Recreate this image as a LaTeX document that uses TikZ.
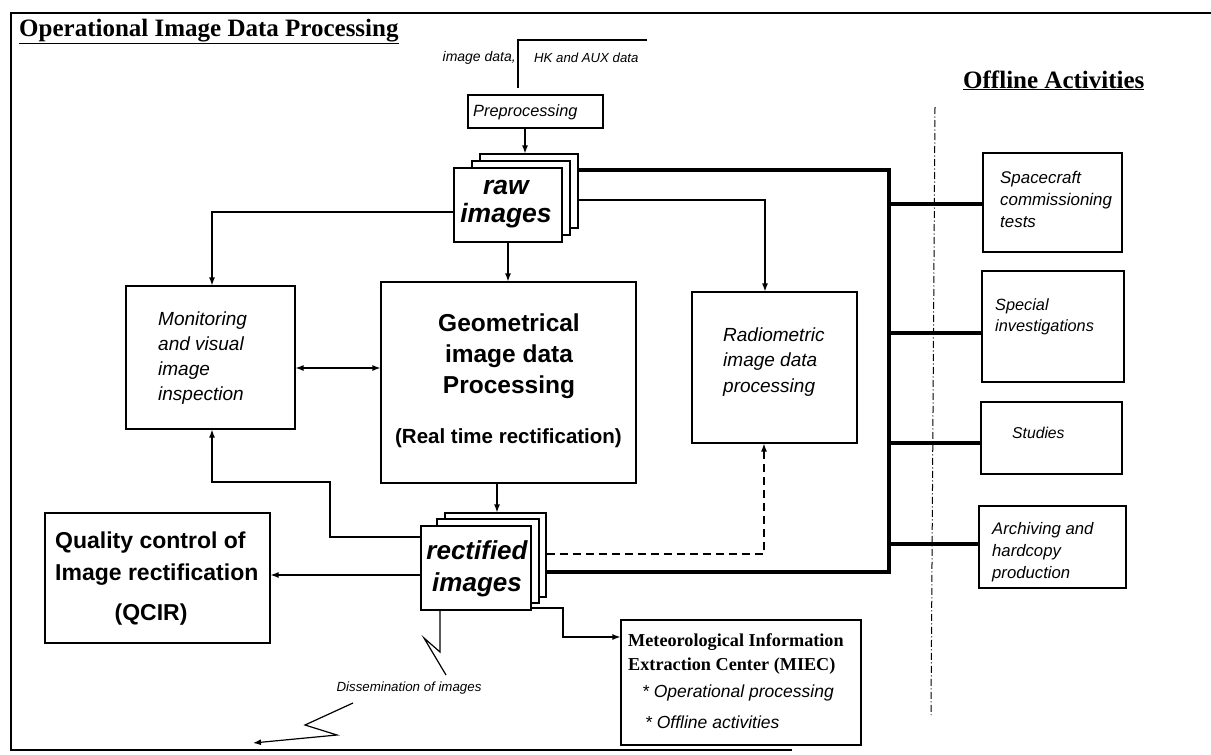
\documentclass[tikz,border=0pt]{standalone}
\usepackage{fontspec}
\setmainfont{Liberation Serif}
\setsansfont{Liberation Sans}
\usetikzlibrary{arrows.meta}
\begin{document}
\begin{tikzpicture}[x=1pt,y=-1pt,
  box/.style={draw, line width=1.2pt, inner sep=0pt, fill=white},
  conn/.style={line width=1.2pt},
  tip/.tip={Latex[length=8pt,width=6pt]},
  arr/.style={conn, -tip},
  darr/.style={conn, tip-tip},
  dasharr/.style={conn, dash pattern=on 8pt off 5pt, -tip},
  bus/.style={line width=3.2pt},
  frame/.style={line width=2.2pt},
  divider/.style={line width=1pt, dash pattern=on 7pt off 2.5pt on 1pt off 2.5pt},
  txt/.style={inner sep=0pt, align=left, anchor=west},
  ctxt/.style={inner sep=0pt, align=center},
  sit/.style={font=\fontsize{#1}{#1}\selectfont\sffamily\itshape},
]
\useasboundingbox (0,0) rectangle (1211,755);

% frame
\draw[frame] (1211,13) -- (11,13) -- (11,750) -- (792,750);

% titles
\node[inner sep=0pt, anchor=base west, font=\fontsize{25}{28}\selectfont\bfseries] (title) at (19,36) {\underline{Operational Image Data Processing}};
\node[inner sep=0pt, anchor=base west, font=\fontsize{25}{28}\selectfont\bfseries] (offtitle) at (963,88) {\underline{Offline Activities}};

% input
\coordinate (inR) at (647,40);
\coordinate (inT) at (518,40);
\coordinate (inB) at (518,88);
\draw[conn] (inR) -- (inT) -- (inB);
\node[inner sep=0pt, anchor=east, font=\fontsize{14}{14}\selectfont\sffamily\itshape] (imgdata) at (516,58) {image data,};
\node[inner sep=0pt, anchor=west, font=\fontsize{13.2}{14}\selectfont\sffamily\itshape] (hkdata) at (534,58) {HK and AUX data};

% preprocessing
\node[box, minimum width=135pt, minimum height=33pt] (pre) at (535.5,111.5) {};
\node[txt, sit=16.3] (preT) at (473,112) {Preprocessing};

% raw images stack
\node[box, minimum width=98pt, minimum height=74pt] (rawB) at (529,191) {};
\node[box, minimum width=98pt, minimum height=74pt] (rawM) at (521,198) {};
\node[box, minimum width=108pt, minimum height=74pt] (raw) at (508,205) {};
\node[ctxt, font=\fontsize{26.5}{28}\selectfont\sffamily\bfseries\itshape] (rawT) at (506,204) {raw\\images};

% monitoring
\node[box, minimum width=169pt, minimum height=143pt] (mon) at (210.5,357.5) {};
\node[txt, font=\fontsize{19}{25}\selectfont\sffamily\itshape] (monT) at (158,358) {Monitoring\\and visual\\image\\inspection};

% geometrical
\node[box, minimum width=255pt, minimum height=201pt] (geo) at (508.5,382.5) {};
\node[ctxt, font=\fontsize{24.5}{31}\selectfont\sffamily\bfseries] (geoT) at (509,356) {Geometrical\\image data\\Processing};
\node[ctxt, font=\fontsize{20.5}{22}\selectfont\sffamily\bfseries] (geoR) at (508.5,438) {(Real time rectification)};

% radiometric
\node[box, minimum width=165pt, minimum height=151pt] (radio) at (774.5,367.5) {};
\node[txt, font=\fontsize{19}{25.5}\selectfont\sffamily\itshape] (radioT) at (723,362) {Radiometric\\image data\\processing};

% rectified images stack
\node[box, minimum width=101pt, minimum height=84pt] (rectB) at (495.5,555) {};
\node[box, minimum width=102pt, minimum height=84pt] (rectM) at (488,561) {};
\node[box, minimum width=110pt, minimum height=84pt] (rect) at (476,568) {};
\node[ctxt, font=\fontsize{26}{32}\selectfont\sffamily\bfseries\itshape] (rectT) at (477,569) {rectified\\images};

% QCIR
\node[box, minimum width=225pt, minimum height=130pt] (qcir) at (157.5,578) {};
\node[txt, font=\fontsize{23}{32}\selectfont\sffamily\bfseries] (qcirT) at (55,559) {Quality control of\\Image rectification};
\node[ctxt, font=\fontsize{23}{26}\selectfont\sffamily\bfseries] (qcirR) at (151,615) {(QCIR)};

% MIEC
\node[box, minimum width=240pt, minimum height=125pt] (miec) at (741,682.5) {};
\node[txt, font=\fontsize{18.2}{24}\selectfont\bfseries] (miecT) at (628,654) {Meteorological Information\\Extraction Center (MIEC)};
\node[txt, sit=17.5] (miecA) at (642,693) {* Operational processing};
\node[txt, sit=17.5] (miecB) at (645,722) {* Offline activities};

% offline boxes
\node[box, minimum width=139pt, minimum height=99pt] (sc) at (1052.5,202.5) {};
\node[txt, font=\fontsize{16.9}{22}\selectfont\sffamily\itshape] (scT) at (1000,199) {Spacecraft\\commissioning\\tests};
\node[box, minimum width=142pt, minimum height=111pt] (si) at (1053,326.5) {};
\node[txt, font=\fontsize{16.3}{21}\selectfont\sffamily\itshape] (siT) at (995,317) {Special\\investigations};
\node[box, minimum width=141pt, minimum height=72pt] (st) at (1051.5,438) {};
\node[txt, sit=15.7] (stT) at (1012,433) {Studies};
\node[box, minimum width=147pt, minimum height=82pt] (ar) at (1052.5,547) {};
\node[txt, font=\fontsize{16.7}{22}\selectfont\sffamily\itshape] (arT) at (992,552) {Archiving and\\hardcopy\\production};

% divider
\coordinate (divT) at (935,107);
\coordinate (divB) at (931,715);
\draw[divider] (divT) -- (divB);

% connectors
\draw[arr] ([xshift=-10.5pt]pre.south) -- ([xshift=-10.5pt]pre.south |- rawB.north);
\draw[arr] (raw.south) -- (raw.south |- geo.north);
\draw[arr] ([yshift=-7pt]raw.west) -| ([xshift=1.5pt]mon.north);
\draw[arr] ([yshift=-9pt]rawB.east) -| ([xshift=-9.5pt]radio.north);
\draw[darr] ([yshift=-10.5pt]mon.east) -- ([yshift=-10.5pt]mon.east -| geo.west);
\draw[arr] ([xshift=-11.5pt]geo.south) -- ([xshift=-11.5pt]geo.south |- rectB.north);

% bus
\coordinate (busB) at (889,572);
\draw[bus] ([yshift=21pt]rawB.east) -| (busB) -- ([yshift=-17pt]rectB.east);
\draw[bus] ([yshift=-1.5pt]sc.west -| busB) -- ([yshift=-1.5pt]sc.west);
\draw[bus] ([yshift=-6.5pt]si.west -| busB) -- ([yshift=-6.5pt]si.west);
\draw[bus] ([yshift=-5pt]st.west -| busB) -- ([yshift=-5pt]st.west);
\draw[bus] ([yshift=3pt]ar.west -| busB) -- ([yshift=3pt]ar.west);

% rectified outputs
\coordinate (loopA) at (330,482);
\draw[arr] ([yshift=31pt]rect.west) -| (loopA) -| ([xshift=1.5pt]mon.south);
\draw[arr] ([yshift=-7pt]rect.west) -- ([yshift=-7pt]rect.west -| qcir.east);
\draw[dasharr] ([yshift=1pt]rectB.east) -| ([xshift=-10.5pt]radio.south);
\coordinate (miecK) at (563,637);
\draw[arr] ([yshift=-40pt]rect.east) -| (miecK) -- ([yshift=45.5pt]miec.west);

% dissemination
\coordinate (dz1) at (440,652);
\coordinate (dz2) at (424,638);
\coordinate (dz3) at (446,675);
\draw[conn] ([xshift=-36pt]rect.south) -- (dz1) -- (dz2) -- (dz3);
\node[ctxt, sit=13.3] (diss) at (409,688) {Dissemination of images};
\coordinate (dl1) at (353,703);
\coordinate (dl2) at (305,725);
\coordinate (dl3) at (337,735);
\coordinate (dl4) at (253,743);
\draw[arr] (dl1) -- (dl2) -- (dl3) -- (dl4);
\end{tikzpicture}
\end{document}
